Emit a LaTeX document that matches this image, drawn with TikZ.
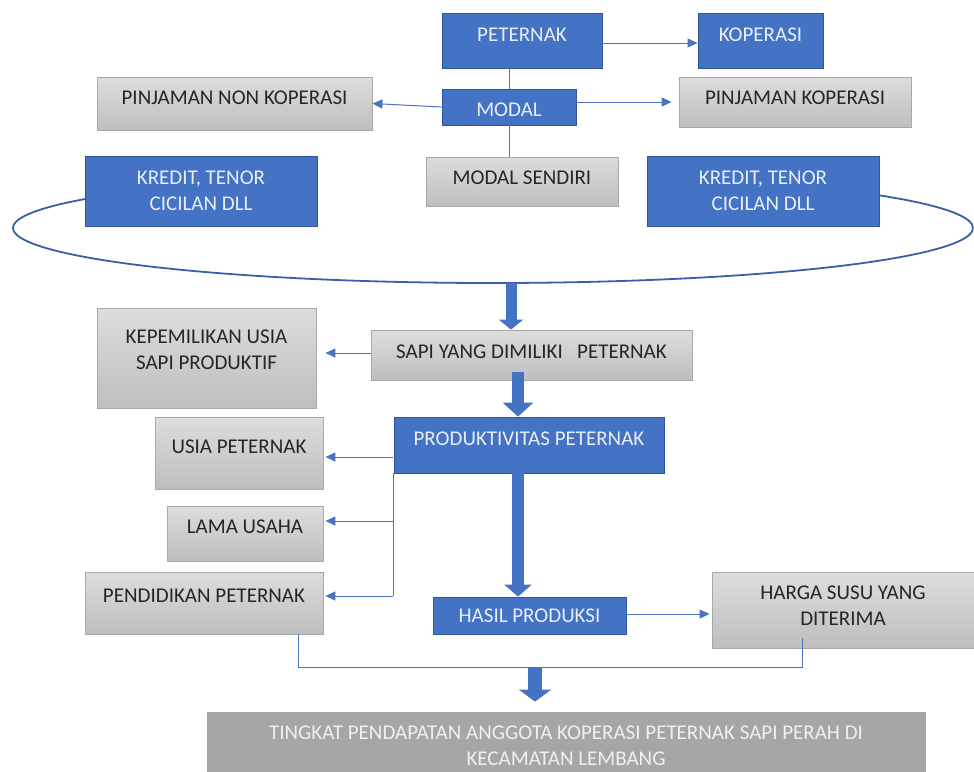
\documentclass[tikz,border=0pt]{standalone}
\usepackage{fontspec}
\setmainfont{Carlito}
\usetikzlibrary{arrows.meta,calc}
\definecolor{bfill}{HTML}{4472C4}
\definecolor{bdraw}{HTML}{2F5597}
\definecolor{btext}{HTML}{E8EEF8}
\definecolor{gtop}{HTML}{DDDDDD}
\definecolor{gbot}{HTML}{BEBEBE}
\definecolor{gdraw}{HTML}{A8A8A8}
\definecolor{gtext}{HTML}{262626}
\definecolor{lcol}{HTML}{4A74BE}
\definecolor{ecol}{HTML}{3A5FA6}
\definecolor{tfill}{HTML}{A6A6A6}
\definecolor{ttext}{HTML}{F0F0F0}
\begin{document}
\begin{tikzpicture}[x=1pt,y=-1pt,
  every node/.style={font=\fontsize{21}{26}\selectfont, inner sep=0pt, align=center},
  base/.style={rectangle, line width=0.8pt},
  bluebox/.style={base, fill=bfill, draw=bdraw, text=btext},
  greybox/.style={base, top color=gtop, bottom color=gbot, draw=gdraw, text=gtext},
  topbox/.style={base, fill=tfill, draw=tfill, text=ttext},
  sz/.style 2 args={minimum width=#1, minimum height=#2},
  one/.style={text height=13.3pt, text depth=#1},
  one/.default=0pt,
  conn/.style={draw=lcol, line width=1pt},
  arr/.style={conn, -{Triangle[length=10pt,width=9pt]}},
  big/.style={draw=bfill, line width=#1},
  ell/.style={draw=ecol, line width=1.8pt}
]
\useasboundingbox (0,0) rectangle (974,771);

% ellipse arc (behind the boxes)
\draw[ell] ($(493,228)+(148.2:480pt and 55pt)$)
  arc[start angle=148.2, end angle=396.5, x radius=480pt, y radius=55pt];
\coordinate (ebot) at (511,283);

% top part
\node[bluebox, one=11pt, sz={160pt}{55pt}] (peternak) at (522,40.5) {PETERNAK};
\node[bluebox, one=11pt, sz={125pt}{55pt}] (koperasi) at (760.5,40.5) {KOPERASI};
\node[bluebox, text height=19.3pt, text depth=0pt, sz={134pt}{36pt}] (modal) at (509,107) {MODAL};
\node[greybox, one=11pt, sz={275pt}{53pt}] (pinjnon) at (234.5,103.5) {PINJAMAN NON KOPERASI};
\node[greybox, one=8pt, sz={232pt}{50pt}] (pinjkop) at (795,102) {PINJAMAN KOPERASI};
\node[greybox, one=7pt, sz={192pt}{49pt}] (modsend) at (522,181.5) {MODAL SENDIRI};
\node[bluebox, sz={232pt}{70pt}] (kredit1) at (201,191) {KREDIT, TENOR\\CICILAN DLL};
\node[bluebox, sz={232pt}{70pt}] (kredit2) at (763,191) {KREDIT, TENOR\\CICILAN DLL};

\draw[arr] (peternak.east |- 0,43) -- (koperasi.west |- 0,43);
\draw[conn] (peternak.south -| modal.north) -- (modal.north);
\draw[conn] (modal.south) -- (modal.south |- modsend.north);
\draw[arr] (modal.west) -- (pinjnon.east);
\draw[arr, shorten >=7pt] (pinjkop.west -| modal.east) -- (pinjkop.west);
\draw[conn] ($(pinjnon.south)+(-48.5,0)$) -- ($(pinjnon.south)+(-48.5,0)$ |- kredit1.north);
\draw[conn] ($(pinjkop.south)+(-23,0)$) -- ($(pinjkop.south)+(-23,0)$ |- kredit2.north);

% middle part
\node[greybox, one=6pt, sz={321pt}{50pt}] (sapi) at (531.5,355) {SAPI YANG DIMILIKI \ \ PETERNAK};
\node[greybox, sz={219pt}{100pt},
  label={[text=gtext, yshift=8pt]center:{KEPEMILIKAN USIA\\SAPI PRODUKTIF}}] (kep) at (206.5,358) {};
\node[bluebox, one=12pt, sz={270pt}{56pt}] (prod) at (529,445) {PRODUKTIVITAS PETERNAK};
\node[greybox, one=12pt, sz={168pt}{72pt}] (usia) at (239,453) {USIA PETERNAK};
\node[greybox, one=13pt, sz={156pt}{55pt}] (lama) at (245,533.5) {LAMA USAHA};
\node[greybox, one=14pt, sz={238pt}{62pt}] (pend) at (204,603) {PENDIDIKAN PETERNAK};
\node[bluebox, one, sz={193pt}{37pt}] (hasil) at (529.5,615.5) {HASIL PRODUKSI};
\node[greybox, sz={262pt}{76pt},
  label={[text=gtext, yshift=4pt]center:{HARGA SUSU YANG\\DITERIMA}}] (harga) at (843,610) {};
\node[topbox, sz={718pt}{68pt}] (tingkat) at (566,746)
  {TINGKAT PENDAPATAN ANGGOTA KOPERASI PETERNAK SAPI PERAH DI\\KECAMATAN LEMBANG};

\draw[big=11pt, -{Triangle[width=24pt,length=10pt]}] (ebot) -- (ebot |- sapi.north);
\draw[arr, shorten >=9pt] (sapi.west |- 0,353) -- (kep.east |- 0,353);

\coordinate (s2) at ($(sapi.south)+(-13.5,-8)$);
\draw[big=12pt, -{Triangle[width=30pt,length=14pt]}] (s2) -- (s2 |- prod.north);

\coordinate (j1) at (393,457);
\coordinate (j2) at (393,521);
\coordinate (j3) at (393,596);
\draw[conn] (prod.south west -| j1) -- (j3);
\draw[arr, shorten >=2pt] (j1) -- (j1 -| usia.east);
\draw[arr, shorten >=2pt] (j2) -- (j2 -| lama.east);
\draw[arr, shorten >=2pt] (j3) -- (j3 -| pend.east);

\coordinate (p2) at ($(prod.south)+(-11,0)$);
\draw[big=12pt, -{Triangle[width=27pt,length=12pt]}] (p2) -- (p2 |- hasil.north);

\draw[arr, shorten >=2pt] (hasil.east |- 0,614) -- (harga.west |- 0,614);

\coordinate (mid) at (535,667);
\draw[conn] ($(pend.south east)+(-25,0)$) |- ($(harga.south west)+(91,19)$) -- ($(harga.south west)+(91,-10)$);
\draw[big=14pt, shorten >=10pt, -{Triangle[width=32pt,length=12pt]}] (mid) -- (mid |- tingkat.north);
\end{tikzpicture}
\end{document}
